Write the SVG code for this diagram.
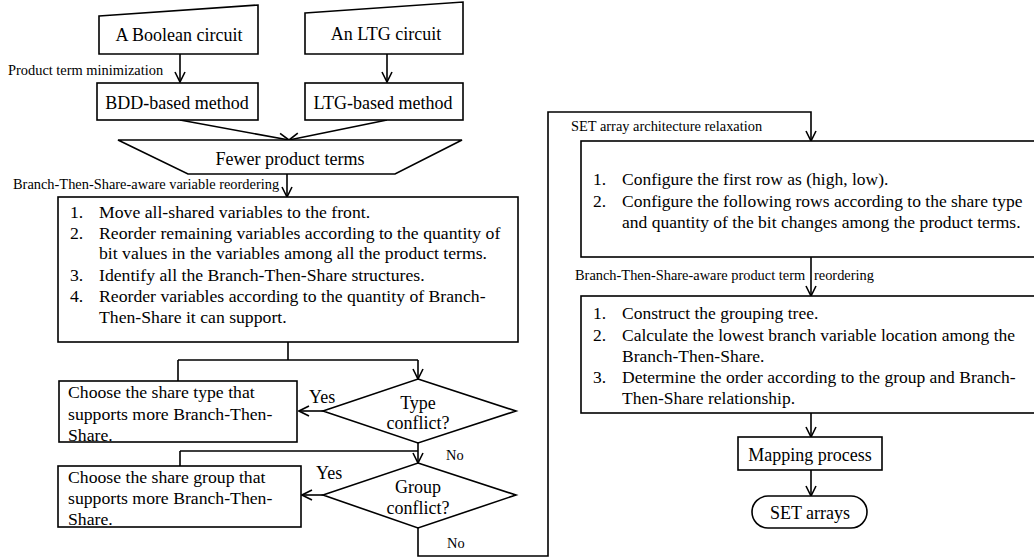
<svg xmlns="http://www.w3.org/2000/svg" width="1034" height="558" viewBox="0 0 1034 558">
<defs>
<marker id="arr" viewBox="0 0 12 12" refX="11" refY="6" markerWidth="12" markerHeight="12" markerUnits="userSpaceOnUse" orient="auto">
<path d="M1,1 L11,6 L1,11" fill="none" stroke="#000" stroke-width="1.6"/>
</marker>
<style>
.s{fill:#fff;stroke:#000;stroke-width:1.6}
.c{fill:none;stroke:#000;stroke-width:1.6}
.t{font-family:"Liberation Serif","Times New Roman",serif;font-size:18px;fill:#000}
.p{font-size:17.7px}
.r{font-size:17.5px}
.l{font-family:"Liberation Serif","Times New Roman",serif;font-size:14.4px;fill:#000}
.m{text-anchor:middle}
</style>
</defs>
<rect width="1034" height="558" fill="#fff"/>
<g id="connectors">
<path class="c" d="M180,54 V82" marker-end="url(#arr)"/>
<path class="c" d="M387,54 V82" marker-end="url(#arr)"/>
<path class="c" d="M180,120 L289,140" marker-end="url(#arr)"/>
<path class="c" d="M387,120 L289,140" marker-end="url(#arr)"/>
<path class="c" d="M287,174 V197" marker-end="url(#arr)"/>
<path class="c" d="M288,342 V360 M178,360 H418 M178,360 V381"/>
<path class="c" d="M418,360 V379" marker-end="url(#arr)"/>
<path class="c" d="M323,411 H299" marker-end="url(#arr)"/>
<path class="c" d="M418,443 V463" marker-end="url(#arr)"/>
<path class="c" d="M180,451 H418 M180,451 V466"/>
<path class="c" d="M323,495 H302" marker-end="url(#arr)"/>
<path class="c" d="M418,528 V556 H548 V112 H811 V141" marker-end="url(#arr)"/>
<path class="c" d="M811,257 V296" marker-end="url(#arr)"/>
<path class="c" d="M811,413 V437" marker-end="url(#arr)"/>
<path class="c" d="M811,470 V496" marker-end="url(#arr)"/>
<text class="l" x="8" y="75">Product term minimization</text>
<text class="l" x="13" y="189">Branch-Then-Share-aware variable reordering</text>
<text class="t" x="309" y="403">Yes</text>
<text class="l" x="446" y="460">No</text>
<text class="t" x="316" y="479">Yes</text>
<text class="l" x="447" y="548">No</text>
<text class="l" x="571" y="131">SET array architecture relaxation</text>
<text class="l" x="575" y="280">Branch-Then-Share-aware product term <tspan x="814">reordering</tspan></text>
</g>
<g id="boolean">
<polygon class="s" points="99,16 258,5 258,54 99,54"/>
<text class="t m" x="179" y="41">A Boolean circuit</text>
</g>
<g id="ltg">
<polygon class="s" points="305,13 463,2 463,54 305,54"/>
<text class="t m" x="386" y="40">An LTG circuit</text>
</g>
<g id="bdd">
<rect class="s" x="97" y="83" width="161" height="37"/>
<text class="t m" x="177" y="109">BDD-based method</text>
</g>
<g id="ltgmethod">
<rect class="s" x="305" y="83" width="158" height="37"/>
<text class="t m" x="383" y="109">LTG-based method</text>
</g>
<g id="fewer">
<polygon class="s" points="118,140 462,140 395,174 188,174"/>
<text class="t m" x="290" y="165">Fewer product terms</text>
</g>
<g id="reorder">
<rect class="s" x="58" y="197" width="460" height="145"/>
<text class="t p" x="70" y="218">1.</text><text class="t p" x="99" y="218">Move all-shared variables to the front.</text>
<text class="t p" x="70" y="239">2.</text><text class="t p" x="99" y="239">Reorder remaining variables according to the quantity of</text>
<text class="t p" x="99" y="259">bit values in the variables among all the product terms.</text>
<text class="t p" x="70" y="281">3.</text><text class="t p" x="99" y="281">Identify all the Branch-Then-Share structures.</text>
<text class="t p" x="70" y="302">4.</text><text class="t p" x="99" y="302">Reorder variables according to the quantity of Branch-</text>
<text class="t p" x="99" y="323">Then-Share it can support.</text>
</g>
<g id="choosetype">
<rect class="s" x="59" y="381" width="238" height="61"/>
<text class="t p" x="68" y="398">Choose the share type that</text>
<text class="t p" x="68" y="420">supports more Branch-Then-</text>
<text class="t p" x="68" y="441">Share.</text>
</g>
<g id="typeconflict">
<polygon class="s" points="418,379 516,411 418,443 323,411"/>
<text class="t m" x="418" y="409">Type</text>
<text class="t m" x="418" y="429">conflict?</text>
</g>
<g id="choosegroup">
<rect class="s" x="58" y="466" width="243" height="61"/>
<text class="t p" x="68" y="483">Choose the share group that</text>
<text class="t p" x="68" y="504">supports more Branch-Then-</text>
<text class="t p" x="68" y="525">Share.</text>
</g>
<g id="groupconflict">
<polygon class="s" points="418,463 516,495 418,528 323,495"/>
<text class="t m" x="418" y="493">Group</text>
<text class="t m" x="418" y="514">conflict?</text>
</g>
<g id="setrelax">
<rect class="s" x="581" y="141" width="470" height="116"/>
<text class="t r" x="593" y="185">1.</text><text class="t r" x="622" y="185">Configure the first row as (high, low).</text>
<text class="t r" x="593" y="207">2.</text><text class="t r" x="622" y="207">Configure the following rows according to the share type</text>
<text class="t r" x="622" y="228">and quantity of the bit changes among the product terms.</text>
</g>
<g id="termreorder">
<rect class="s" x="581" y="296" width="470" height="117"/>
<text class="t r" x="593" y="319">1.</text><text class="t r" x="622" y="319">Construct the grouping tree.</text>
<text class="t r" x="593" y="341">2.</text><text class="t r" x="622" y="341">Calculate the lowest branch variable location among the</text>
<text class="t r" x="622" y="362">Branch-Then-Share.</text>
<text class="t r" x="593" y="383">3.</text><text class="t r" x="622" y="383">Determine the order according to the group and Branch-</text>
<text class="t r" x="622" y="404">Then-Share relationship.</text>
</g>
<g id="mapping">
<rect class="s" x="738" y="437" width="144" height="33"/>
<text class="t m" x="810" y="461">Mapping process</text>
</g>
<g id="setarrays">
<rect class="s" x="752" y="496" width="115" height="32" rx="16"/>
<text class="t m" x="810" y="519">SET arrays</text>
</g>
</svg>
